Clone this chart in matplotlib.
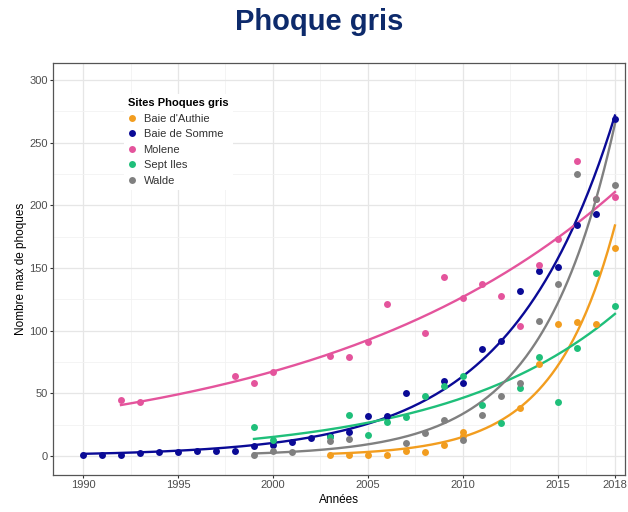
import numpy as np
import matplotlib
matplotlib.use("Agg")
import matplotlib.pyplot as plt
from matplotlib.lines import Line2D

plt.rcParams['font.family'] = ['Liberation Sans', 'DejaVu Sans']

# ---- data ----
sites = ["Baie d'Authie", "Baie de Somme", "Molene", "Sept Iles", "Walde"]
colors = ["#F29D1F", "#0A0A96", "#E4549C", "#1FBF7A", "#808080"]

years_authie = [2003, 2004, 2005, 2006, 2007, 2008, 2009, 2010, 2010, 2013, 2014, 2015, 2016, 2017, 2018]
vals_authie = [1, 0.5, 1, 1, 4, 3, 9, 19, 16, 38, 73, 105, 107, 105, 166]

years_somme = [1990, 1991, 1992, 1993, 1994, 1995, 1996, 1997, 1998, 1999, 2000, 2001, 2002, 2003,
               2004, 2005, 2006, 2007, 2009, 2010, 2011, 2012, 2013, 2014, 2015, 2016, 2017, 2018]
vals_somme = [1, 1, 0.5, 2, 3, 3, 4, 4, 4, 8, 9, 11, 14, 16,
              19, 32, 32, 50, 60, 58, 85, 92, 132, 148, 151, 184, 193, 269]

years_molene = [1992, 1993, 1998, 1999, 2000, 2003, 2004, 2005, 2006, 2008, 2009, 2010, 2011, 2012,
                2013, 2014, 2015, 2016, 2017, 2018]
vals_molene = [45, 43, 64, 58, 67, 80, 79, 91, 121, 98, 143, 126, 137, 128,
               104, 152, 173, 235, 205, 207]

years_sept = [1999, 2000, 2003, 2004, 2005, 2006, 2007, 2008, 2009, 2010, 2011, 2012, 2013, 2014,
              2015, 2016, 2017, 2018]
vals_sept = [23, 13, 15, 33, 17, 27, 31, 48, 56, 64, 41, 26, 54, 79,
             43, 86, 146, 120]

years_walde = [1999, 2000, 2001, 2003, 2004, 2007, 2008, 2009, 2010, 2011, 2012, 2013, 2014, 2015,
               2016, 2017, 2018]
vals_walde = [1, 4, 3, 12, 13.5, 10, 18, 29, 13, 33, 48, 58, 108, 137,
              225, 205, 216]

series_years = [years_authie, years_somme, years_molene, years_sept, years_walde]
series_vals = [vals_authie, vals_somme, vals_molene, vals_sept, vals_walde]

x_ticks = [1990, 1995, 2000, 2005, 2010, 2015, 2018]
x_minor = [1992.5, 1997.5, 2002.5, 2007.5, 2012.5, 2016.5]
y_ticks = [0, 50, 100, 150, 200, 250, 300]
y_minor = [25, 75, 125, 175, 225, 275]


def poisson_fit(x, y, n_iter=50):
    x = np.asarray(x, float) - 2000.0
    y = np.asarray(y, float)
    X = np.column_stack([np.ones_like(x), x])
    beta = np.array([np.log(max(y.mean(), 1e-3)), 0.0])
    for _ in range(n_iter):
        eta = X @ beta
        mu = np.exp(eta)
        z = eta + (y - mu) / mu
        W = mu
        XtW = X.T * W
        beta = np.linalg.solve(XtW @ X, XtW @ z)
    return beta


W_PX, H_PX = 628, 512
fig = plt.figure(figsize=(W_PX / 100, H_PX / 100), dpi=100)
fig.patch.set_facecolor("white")

left, right, top, bottom = 53, 625, 63, 475
ax = fig.add_axes([left / W_PX, 1 - bottom / H_PX, (right - left) / W_PX, (bottom - top) / H_PX])

ax.set_xlim(1988.42, 2018.53)
ax.set_ylim(-15.2, 313.6)

ax.set_xticks(x_ticks)
ax.set_xticks(x_minor, minor=True)
ax.set_yticks(y_ticks)
ax.set_yticks(y_minor, minor=True)
ax.set_xticklabels([str(t) for t in x_ticks])
ax.set_yticklabels([str(t) for t in y_ticks])
ax.grid(True, which="major", color="#E6E6E6", linewidth=0.9)
ax.grid(True, which="minor", color="#F2F2F2", linewidth=0.6)
ax.set_axisbelow(True)
ax.tick_params(axis="both", which="major", length=2.5, width=0.8, color="#333333",
               labelsize=8, labelcolor="#4D4D4D")
ax.tick_params(axis="x", which="major", pad=0.8)
ax.tick_params(axis="y", which="major", pad=1.2)
ax.tick_params(axis="both", which="minor", length=0)
for s in ax.spines.values():
    s.set_color("#555555")
    s.set_linewidth(0.9)

for yrs, vals, c in zip(series_years, series_vals, colors):
    ax.plot(yrs, vals, "o", color=c, markersize=5, markeredgewidth=0, zorder=3)
    b = poisson_fit(yrs, vals)
    xs = np.linspace(min(yrs), max(yrs), 200)
    ax.plot(xs, np.exp(b[0] + b[1] * (xs - 2000.0)), "-", color=c, linewidth=1.7, zorder=2)

ax.set_xlabel("Années", fontsize=8.5, color="black", labelpad=3.5)
ax.set_ylabel("Nombre max de phoques", fontsize=8.5, color="black", labelpad=2)

handles = [Line2D([], [], marker="o", linestyle="", color=c, markersize=5, markeredgewidth=0)
           for c in colors]
leg = ax.legend(handles, sites, title="Sites Phoques gris", loc="upper left",
                bbox_to_anchor=(118 / W_PX, 1 - 88 / H_PX), bbox_transform=fig.transFigure,
                fontsize=8, title_fontproperties={"weight": "bold", "size": 8},
                frameon=True, facecolor="white", edgecolor="none", framealpha=1,
                handlelength=0.8, handletextpad=0.6, labelspacing=0.5, borderpad=0.4)
leg._legend_box.align = "left"
for t in leg.get_texts():
    t.set_color("#333333")

fig.text(319 / W_PX, 1 - 22 / H_PX, "Phoque gris", ha="center", va="center",
         fontsize=21, fontweight="bold", color="#0D2A6B")

fig.savefig("out.png", dpi=100, facecolor="white")
